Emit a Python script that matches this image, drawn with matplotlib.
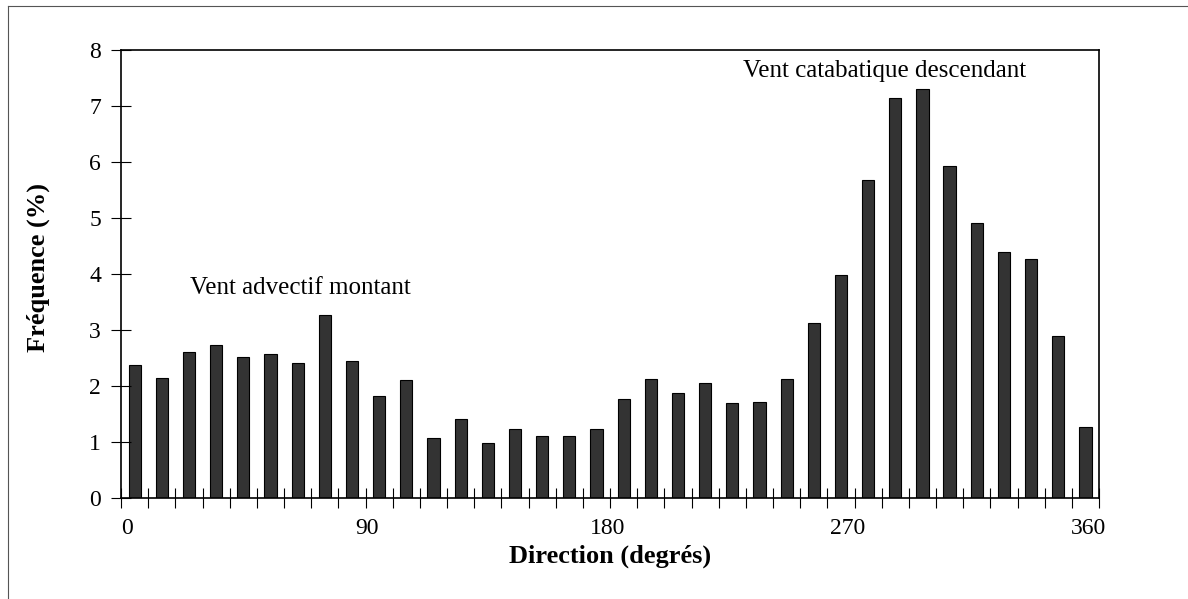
import matplotlib.pyplot as plt
import numpy as np
from matplotlib.lines import Line2D

# frequence des directions du vent, classes de 10 degres
classes = np.arange(0, 360, 10)
frequence = [2.38, 2.15, 2.61, 2.73, 2.52, 2.57, 2.41, 3.27, 2.45, 1.83,
             2.10, 1.08, 1.41, 0.99, 1.24, 1.10, 1.10, 1.24, 1.76, 2.12,
             1.88, 2.05, 1.69, 1.72, 2.13, 3.12, 3.99, 5.68, 7.15, 7.30,
             5.93, 4.91, 4.40, 4.26, 2.89, 1.27]
etiquettes_x = [0, 90, 180, 270, 360]
etiquettes_y = [0, 1, 2, 3, 4, 5, 6, 7, 8]

plt.rcParams['font.family'] = ['Liberation Serif', 'DejaVu Serif']

fig = plt.figure(figsize=(11.88, 5.99), dpi=100)
ax = fig.add_axes([0.1019, 0.1686, 0.8232, 0.7479])

ax.bar(classes + 5, frequence, width=4.5, color='#333333',
       edgecolor='black', linewidth=0.8)

ax.set_xlim(0, 360)
ax.set_ylim(0, 8)

# petites graduations a chaque classe, sans texte
ax.set_xticks(np.arange(0, 361, 10))
ax.set_xticklabels([])
ax.tick_params(axis='x', direction='inout', length=15, width=0.8)
ax.set_yticks(etiquettes_y)
ax.set_yticklabels([str(v) for v in etiquettes_y], fontsize=17)
ax.tick_params(axis='y', direction='inout', length=15, width=0.8, pad=7)

# les etiquettes de l'axe x ne sont pas tout a fait alignees sur les graduations
for v in etiquettes_x:
    ax.text(2.2 + v * 353.8 / 360, -0.54, str(v), ha='center', va='center',
            fontsize=17)

for s in ax.spines.values():
    s.set_linewidth(1.2)

ax.set_ylabel('Fréquence (%)', fontsize=19, fontweight='bold')
ax.yaxis.set_label_coords(-0.0726, 0.515)
ax.text(180, -1.04, 'Direction (degrés)', ha='center', va='center',
        fontsize=19, fontweight='bold')

ax.text(66, 3.75, 'Vent advectif montant', ha='center', va='center',
        fontsize=18)
ax.text(281, 7.62, 'Vent catabatique descendant', ha='center', va='center',
        fontsize=18)

# cadre exterieur (haut et gauche)
fig.add_artist(Line2D([8 / 1188, 8 / 1188], [0, 1 - 6 / 599],
                      transform=fig.transFigure, color='#555555', lw=0.8))
fig.add_artist(Line2D([8 / 1188, 1], [1 - 6 / 599, 1 - 6 / 599],
                      transform=fig.transFigure, color='#555555', lw=0.8))

fig.savefig('out.png', dpi=100)
